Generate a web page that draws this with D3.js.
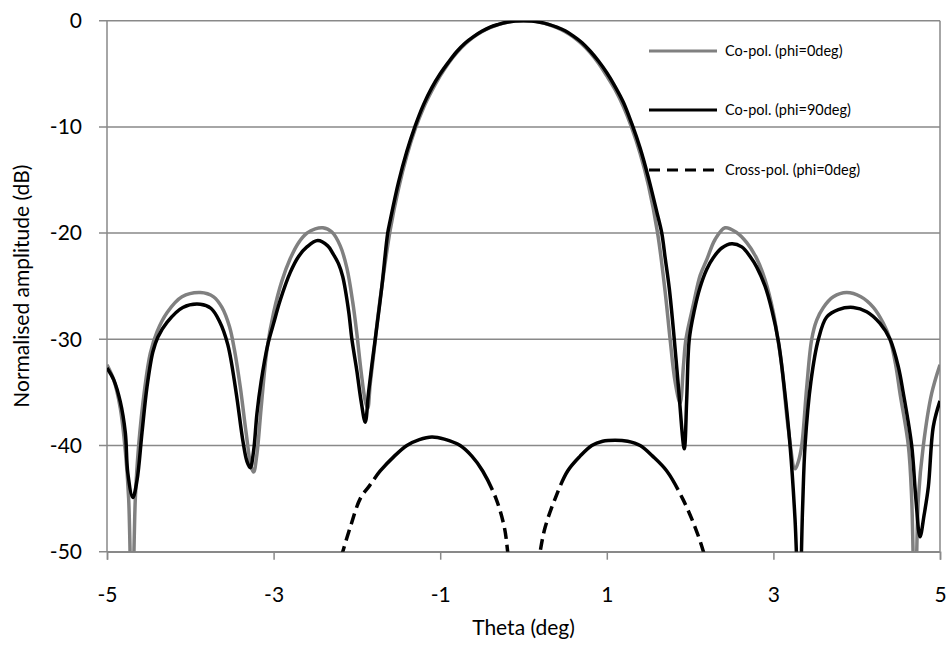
<!DOCTYPE html>
<html>
<head>
<meta charset="utf-8">
<script src="https://cdn.jsdelivr.net/npm/d3@7"></script>
<style>
  body { margin: 0; background: #fff; }
  text { font-family: Lato, "Open Sans", sans-serif; fill: #000; }
</style>
</head>
<body>
<div id="chart"></div>
<script>
// Co-pol. (phi=0deg) - grey
const theta0 = [-5.00,-4.92,-4.84,-4.78,-4.74,-4.70,-4.66,-4.62,-4.55,-4.48,-4.40,-4.28,-4.10,-3.88,-3.72,-3.62,-3.53,-3.47,-3.40,-3.33,-3.27,-3.24,-3.20,-3.15,-3.08,-3.00,-2.90,-2.80,-2.70,-2.60,-2.50,-2.41,-2.30,-2.20,-2.12,-2.05,-2.00,-1.95,-1.90,-1.87,-1.84,-1.80,-1.75,-1.70,-1.60,-1.50,-1.40,-1.30,-1.20,-1.10,-1.00,-0.90,-0.80,-0.70,-0.60,-0.50,-0.40,-0.30,-0.20,-0.10,0.00,0.10,0.20,0.30,0.40,0.50,0.60,0.70,0.80,0.90,1.00,1.10,1.20,1.30,1.40,1.50,1.61,1.70,1.76,1.82,1.88,1.92,1.95,2.04,2.12,2.20,2.30,2.42,2.55,2.68,2.80,2.90,3.00,3.05,3.10,3.18,3.26,3.30,3.34,3.40,3.46,3.52,3.60,3.72,3.88,4.05,4.20,4.32,4.40,4.47,4.52,4.62,4.66,4.70,4.74,4.80,4.90,5.00];
const amp0 = [-32.4,-33.8,-36.5,-40.5,-45.0,-57,-45.0,-40.0,-34.8,-31.3,-29.3,-27.5,-26.0,-25.6,-26.0,-27.0,-28.8,-31.0,-34.5,-38.8,-42.0,-42.5,-40.8,-36.5,-31.0,-27.5,-24.5,-22.4,-20.9,-20.0,-19.6,-19.5,-19.9,-21.2,-23.3,-26.5,-29.5,-33.0,-35.8,-36.5,-34.2,-31.5,-28.0,-25.0,-19.7,-15.8,-12.7,-10.2,-8.2,-6.6,-5.2,-4.0,-3.0,-2.2,-1.55,-1.05,-0.65,-0.36,-0.16,-0.04,0,-0.04,-0.16,-0.36,-0.65,-1.05,-1.55,-2.2,-3.0,-4.0,-5.2,-6.5,-8.1,-10.1,-12.5,-15.5,-20.0,-25.5,-30.0,-34.0,-36.0,-32.5,-30.0,-26.7,-24.0,-22.5,-20.6,-19.5,-19.9,-20.9,-22.4,-24.4,-27.5,-29.8,-32.5,-38.5,-42.2,-41.5,-40.0,-34.5,-30.0,-28.2,-27.0,-26.0,-25.6,-26.0,-27.0,-28.5,-30.0,-32.5,-35.1,-40.0,-45,-57,-45,-40.0,-35.1,-32.4];

// Co-pol. (phi=90deg) - black
const theta90 = [-5.00,-4.92,-4.84,-4.78,-4.75,-4.69,-4.64,-4.58,-4.52,-4.45,-4.39,-4.28,-4.09,-3.88,-3.75,-3.65,-3.55,-3.45,-3.37,-3.32,-3.28,-3.24,-3.20,-3.15,-3.07,-3.00,-2.92,-2.80,-2.70,-2.60,-2.47,-2.35,-2.29,-2.22,-2.17,-2.10,-2.06,-2.00,-1.95,-1.90,-1.86,-1.82,-1.78,-1.70,-1.63,-1.60,-1.50,-1.40,-1.30,-1.20,-1.10,-1.00,-0.90,-0.80,-0.70,-0.60,-0.50,-0.40,-0.30,-0.20,-0.10,0.00,0.10,0.20,0.30,0.40,0.50,0.60,0.70,0.80,0.90,1.00,1.10,1.20,1.30,1.40,1.50,1.60,1.66,1.70,1.75,1.81,1.86,1.93,1.96,1.99,2.05,2.12,2.20,2.28,2.38,2.50,2.62,2.72,2.80,2.90,2.98,3.06,3.13,3.20,3.26,3.31,3.35,3.38,3.45,3.54,3.64,3.78,3.96,4.12,4.28,4.40,4.50,4.56,4.66,4.71,4.76,4.81,4.86,4.92,5.00];
const amp90 = [-32.7,-33.8,-35.9,-38.8,-42.6,-44.9,-43.3,-38.8,-34.5,-31.2,-29.8,-28.4,-27.0,-26.7,-27.1,-28.3,-30.5,-35.0,-39.5,-41.5,-42.1,-40.5,-37.0,-34.0,-30.5,-28.5,-26.3,-23.7,-22.2,-21.3,-20.7,-21.2,-21.9,-22.9,-24.1,-27.3,-30.0,-33.0,-35.8,-37.8,-35.0,-32.4,-30.0,-25.0,-20.0,-18.8,-15.2,-12.3,-9.9,-7.9,-6.3,-5.0,-3.9,-2.9,-2.1,-1.5,-1.0,-0.6,-0.35,-0.15,-0.04,0,-0.04,-0.15,-0.34,-0.6,-0.95,-1.45,-2.05,-2.85,-3.8,-4.9,-6.2,-7.7,-9.7,-12.0,-14.8,-18.0,-20.0,-22.3,-25.2,-30.0,-34.5,-40.3,-35.5,-30.0,-27.3,-25.1,-23.4,-22.3,-21.4,-21.0,-21.3,-22.2,-23.2,-25.0,-27.2,-30.2,-34.5,-40.0,-47,-56,-46,-40.0,-34.0,-30.0,-27.9,-27.2,-27.0,-27.4,-28.5,-30.0,-32.6,-35.1,-40.0,-45,-48.6,-46.5,-43.9,-38.2,-35.8];

// Cross-pol. (phi=0deg) - dashed, two lobes (null marks the gap)
const thetaX = [-2.24,-2.17,-2.08,-1.96,-1.85,-1.72,-1.55,-1.40,-1.25,-1.10,-0.95,-0.76,-0.62,-0.49,-0.33,-0.23,-0.19,-0.15,0.00,0.15,0.20,0.26,0.38,0.53,0.68,0.82,0.95,1.10,1.25,1.40,1.55,1.72,1.91,2.06,2.16,2.22];
const ampX = [-52,-50,-47.7,-45,-43.8,-42.4,-41.0,-40.0,-39.45,-39.2,-39.4,-40.0,-41.0,-42.4,-45,-47.7,-50,-53,null,-53,-50,-47.7,-45,-42.4,-41.0,-40.0,-39.6,-39.5,-39.6,-40.0,-41.0,-42.4,-45,-47.7,-50,-52];

const xTicks = [-5, -3, -1, 1, 3, 5];
const yTicks = [0, -10, -20, -30, -40, -50];
const seriesNames = ["Co-pol. (phi=0deg)", "Co-pol. (phi=90deg)", "Cross-pol. (phi=0deg)"];

const W = 951, H = 648;
const margin = {top: 20.7, right: 11, bottom: 96.3, left: 107};
const gridColor = "#898989";

const svg = d3.select("#chart").append("svg")
    .attr("width", W)
    .attr("height", H);

const x = d3.scaleLinear().domain([-5, 5]).range([margin.left, W - margin.right]);
const y = d3.scaleLinear().domain([-50, 0]).range([H - margin.bottom, margin.top]);

svg.append("defs").append("clipPath").attr("id", "plot")
  .append("rect")
    .attr("x", x(-5)).attr("y", y(0))
    .attr("width", x(5) - x(-5)).attr("height", y(-50) - y(0));

// horizontal gridlines (extend left as tick marks)
svg.append("g").selectAll("line")
  .data(yTicks)
  .join("line")
    .attr("x1", x(-5) - 8).attr("x2", x(5))
    .attr("y1", d => y(d)).attr("y2", d => y(d))
    .attr("stroke", gridColor).attr("stroke-width", 1.5);

// left axis and right border
svg.append("line")
    .attr("x1", x(-5)).attr("x2", x(-5)).attr("y1", y(0)).attr("y2", y(-50))
    .attr("stroke", gridColor).attr("stroke-width", 1.5);
svg.append("line")
    .attr("x1", x(5)).attr("x2", x(5)).attr("y1", y(0)).attr("y2", y(-50))
    .attr("stroke", gridColor).attr("stroke-width", 1.5);

// bottom axis
const xAxis = svg.append("g")
    .attr("transform", `translate(0,${y(-50)})`)
    .call(d3.axisBottom(x).tickValues(xTicks).tickSize(8).tickPadding(27).tickFormat(d => String(d)));
xAxis.select(".domain").attr("stroke", gridColor).attr("stroke-width", 1.5);
xAxis.selectAll(".tick line").attr("stroke", gridColor).attr("stroke-width", 1.5);
xAxis.selectAll(".tick text").style("font-size", "21px").style("font-family", "Lato, sans-serif").attr("fill", "#000");

// y tick labels
svg.append("g").selectAll("text")
  .data(yTicks)
  .join("text")
    .attr("x", 82)
    .attr("y", d => y(d))
    .attr("dy", "0.35em")
    .attr("text-anchor", "end")
    .style("font-size", "21px")
    .text(d => String(d));

// axis titles
svg.append("text")
    .attr("x", (x(-5) + x(5)) / 2)
    .attr("y", 635)
    .attr("text-anchor", "middle")
    .style("font-size", "21px")
    .text("Theta (deg)");
svg.append("text")
    .attr("transform", `translate(29,${(y(0) + y(-50)) / 2}) rotate(-90)`)
    .attr("text-anchor", "middle")
    .style("font-size", "21px")
    .text("Normalised amplitude (dB)");

const line = d3.line()
    .defined(d => d[1] !== null)
    .x(d => x(d[0]))
    .y(d => y(d[1]))
    .curve(d3.curveCatmullRom.alpha(0.5));

const plot = svg.append("g").attr("clip-path", "url(#plot)");

// cross-pol: split into lobes, solid near the top, dashed lower down
const crossData = thetaX.map((t, i) => [t, ampX[i]]);
const lobes = [];
let cur = [];
crossData.forEach(d => {
  if (d[1] === null) { if (cur.length) lobes.push(cur); cur = []; }
  else cur.push(d);
});
if (cur.length) lobes.push(cur);

lobes.forEach(lobe => {
  const p = plot.append("path")
      .attr("d", line(lobe))
      .attr("fill", "none")
      .attr("stroke", "#000")
      .attr("stroke-width", 3.5);
  const node = p.node();
  const L = node.getTotalLength();
  const limit = y(-43.2);
  const pattern = [];
  let on = true, run = 0, phase = 0;
  for (let s = 0; s < L; s += 1) {
    const pt = node.getPointAtLength(s);
    let want;
    if (pt.y < limit) { want = true; phase = 0; }
    else { want = (phase % 17) < 11; phase++; }
    if (want === on) run++;
    else { pattern.push(run); run = 1; on = want; }
  }
  pattern.push(run);
  if (pattern.length % 2 === 1) pattern.push(L);
  p.attr("stroke-dasharray", pattern.join(","));
});

plot.append("path")
    .attr("d", line(theta0.map((t, i) => [t, amp0[i]])))
    .attr("fill", "none")
    .attr("stroke", "#808080")
    .attr("stroke-width", 3.5);

plot.append("path")
    .attr("d", line(theta90.map((t, i) => [t, amp90[i]])))
    .attr("fill", "none")
    .attr("stroke", "#000")
    .attr("stroke-width", 3.5);

// legend
const legend = svg.append("g");
const legendStyles = [
  {color: "#808080", dash: null},
  {color: "#000", dash: null},
  {color: "#000", dash: "11,7"}
];
const legendY = [51, 110, 170];
seriesNames.forEach((name, i) => {
  legend.append("line")
      .attr("x1", 649).attr("x2", 717)
      .attr("y1", legendY[i]).attr("y2", legendY[i])
      .attr("stroke", legendStyles[i].color)
      .attr("stroke-width", 3)
      .attr("stroke-dasharray", legendStyles[i].dash);
  legend.append("text")
      .attr("x", 725)
      .attr("y", legendY[i])
      .attr("dy", "0.35em")
      .style("font-size", "14.5px")
      .text(name);
});
</script>
</body>
</html>
